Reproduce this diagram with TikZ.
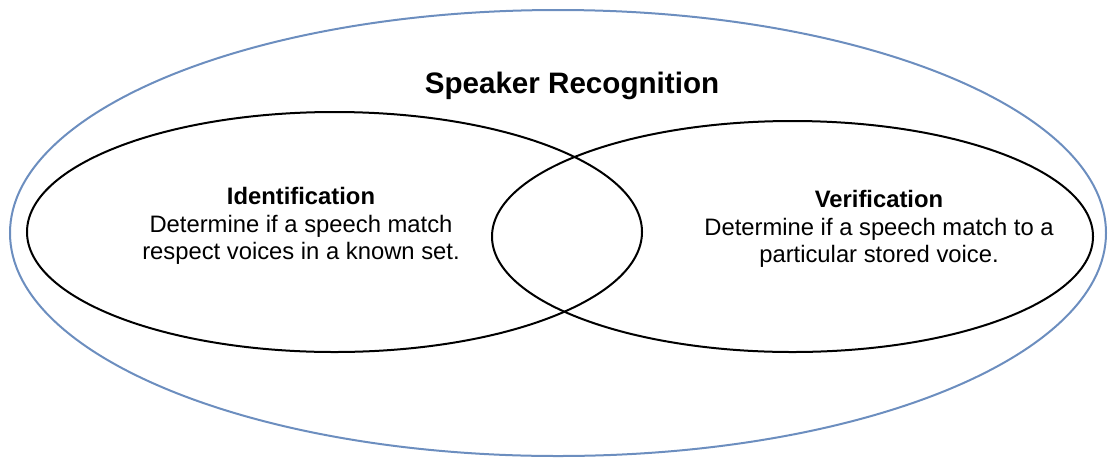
\documentclass[tikz,border=0pt]{standalone}
\usepackage{fontspec}
\setmainfont{Liberation Sans}
\definecolor{outerblue}{HTML}{6C8EBF}
\begin{document}
\begin{tikzpicture}[x=1pt,y=-1pt,
  outerell/.style={draw=outerblue,line width=2pt},
  innerell/.style={draw=black,line width=2pt},
  title/.style={font=\fontsize{29.6}{34}\selectfont\bfseries},
  body/.style={font=\fontsize{23.8}{27.5}\selectfont,align=center}]
\useasboundingbox (0,0) rectangle (1108,459);
\draw[outerell] (558,233) ellipse [x radius=548, y radius=223];
\draw[innerell] (334.5,232) ellipse [x radius=307.5, y radius=120];
\draw[innerell] (792.5,236.5) ellipse [x radius=300.5, y radius=115.5];
\node[title] (sr) at (572,86) {Speaker Recognition};
\node[body] (id) at (301,226) {\textbf{Identification}\\Determine if a speech match\\respect voices in a known set.};
\node[body] (ver) at (879,229) {\textbf{Verification}\\Determine if a speech match to a\\particular stored voice.};
\end{tikzpicture}
\end{document}
